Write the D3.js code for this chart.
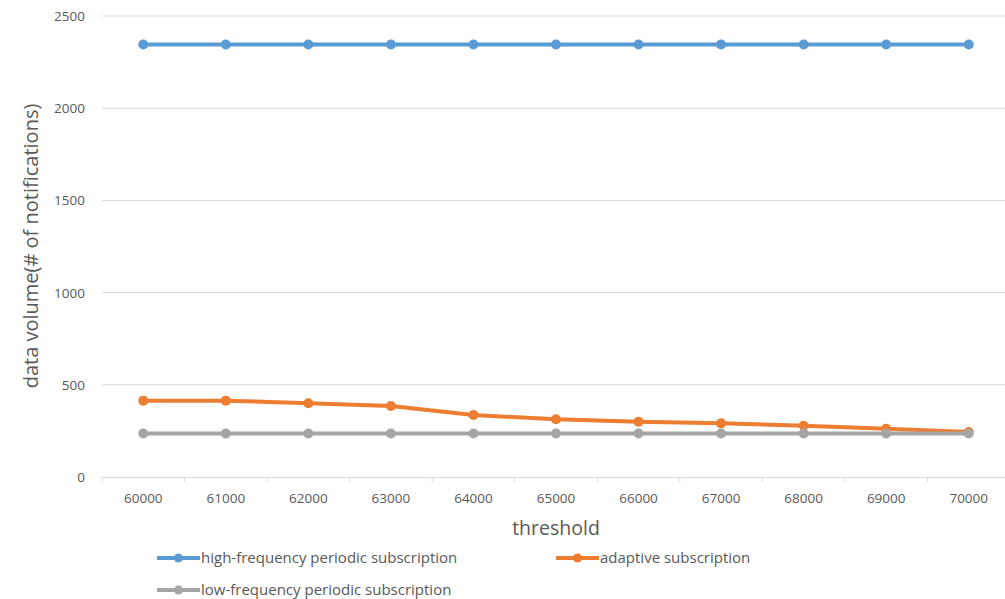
<!DOCTYPE html>
<html>
<head>
<meta charset="utf-8">
<script src="https://cdn.jsdelivr.net/npm/d3@7"></script>
<style>
  body { margin: 0; background: #fff; }
  text { font-family: "Open Sans", sans-serif; fill: #595959; }
</style>
</head>
<body>
<div id="chart"></div>
<script>
// data
const thresholds = ["60000", "61000", "62000", "63000", "64000", "65000", "66000", "67000", "68000", "69000", "70000"];
const highFreq = [2345, 2345, 2345, 2345, 2345, 2345, 2345, 2345, 2345, 2345, 2345];
const adaptive = [414, 414, 400, 385, 336, 313, 300, 291, 278, 262, 244];
const lowFreq = [236, 236, 236, 236, 236, 236, 236, 236, 236, 236, 236];
const yTicks = [0, 500, 1000, 1500, 2000, 2500];

const series = [
  { name: "high-frequency periodic subscription", values: highFreq, color: "#5b9bd5" },
  { name: "adaptive subscription", values: adaptive, color: "#ed7d31" },
  { name: "low-frequency periodic subscription", values: lowFreq, color: "#a5a5a5" }
];

const W = 1005, H = 599;
const svg = d3.select("#chart").append("svg").attr("width", W).attr("height", H);

const x = d3.scaleBand().domain(thresholds).range([102, 1010]);
const y = d3.scaleLinear().domain([0, 2500]).range([477, 16]);

// gridlines
svg.append("g").selectAll("line")
  .data(yTicks.filter(d => d > 0))
  .join("line")
  .attr("x1", 102).attr("x2", 1010)
  .attr("y1", d => y(d)).attr("y2", d => y(d))
  .attr("stroke", "#d9d9d9").attr("stroke-width", 1);

// y labels
svg.append("g").selectAll("text")
  .data(yTicks)
  .join("text")
  .attr("x", 85).attr("y", d => y(d) + 5)
  .attr("text-anchor", "end")
  .attr("font-size", 13.5)
  .text(d => d);

// x axis
const xAxis = d3.axisBottom(x).tickSize(0).tickPadding(16);
const gx = svg.append("g").attr("transform", `translate(0,${y(0)})`).call(xAxis);
gx.select(".domain").attr("stroke", "#d9d9d9");
gx.selectAll("text").attr("font-size", 13.5).attr("fill", "#595959").attr("font-family", "'Open Sans', sans-serif");
// band boundary ticks
gx.append("g").selectAll("line")
  .data(thresholds.concat([null]))
  .join("line")
  .attr("x1", (d, i) => x.range()[0] + i * x.bandwidth())
  .attr("x2", (d, i) => x.range()[0] + i * x.bandwidth())
  .attr("y1", 0).attr("y2", 5)
  .attr("stroke", "#d9d9d9");

// axis titles
svg.append("text")
  .attr("x", 556).attr("y", 535)
  .attr("text-anchor", "middle")
  .attr("font-size", 19.5)
  .text("threshold");
svg.append("text")
  .attr("transform", `translate(38,246) rotate(-90)`)
  .attr("text-anchor", "middle")
  .attr("font-size", 20)
  .text("data volume(# of notifications)");

// lines
const line = d3.line()
  .x((d, i) => x(thresholds[i]) + x.bandwidth() / 2)
  .y(d => y(d));

series.forEach(s => {
  svg.append("path")
    .datum(s.values)
    .attr("d", line)
    .attr("fill", "none")
    .attr("stroke", s.color)
    .attr("stroke-width", 4)
    .attr("stroke-linejoin", "round");
  svg.append("g").selectAll("circle")
    .data(s.values)
    .join("circle")
    .attr("cx", (d, i) => x(thresholds[i]) + x.bandwidth() / 2)
    .attr("cy", d => y(d))
    .attr("r", 5)
    .attr("fill", s.color);
});

// legend
const legendPos = [[157, 558], [556, 558], [157, 590]];
series.forEach((s, i) => {
  const [lx, ly] = legendPos[i];
  const g = svg.append("g").attr("transform", `translate(${lx},${ly})`);
  g.append("line").attr("x1", 0).attr("x2", 43).attr("y1", 0).attr("y2", 0)
    .attr("stroke", s.color).attr("stroke-width", 4);
  g.append("circle").attr("cx", 21.5).attr("cy", 0).attr("r", 4.5).attr("fill", s.color);
  g.append("text").attr("x", 44).attr("y", 5).attr("font-size", 15).text(s.name);
});
</script>
</body>
</html>
